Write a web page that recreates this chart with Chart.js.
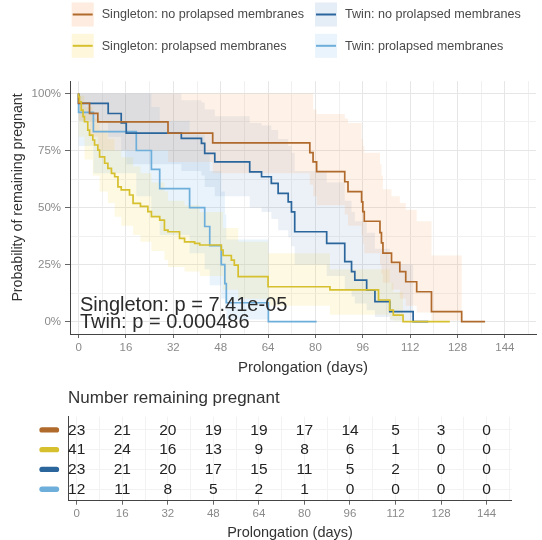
<!DOCTYPE html>
<html><head><meta charset="utf-8">
<script src="https://cdn.jsdelivr.net/npm/chart.js@4.4.1/dist/chart.umd.min.js"></script>
<style>
html,body{margin:0;padding:0;background:#fff;}
#wrap{position:relative;width:542px;height:540px;overflow:hidden;background:#fff;}
#c1{position:absolute;left:0;top:0;}
#c2{position:absolute;left:0;top:380px;}
</style></head><body>
<div id="wrap"><canvas id="c1" width="542" height="380"></canvas><canvas id="c2" width="542" height="160"></canvas></div>
<script>
// ---------------- data ----------------
const seriesNames = ['Singleton: no prolapsed membranes', 'Twin: no prolapsed membranes', 'Singleton: prolapsed membranes', 'Twin: prolapsed membranes'];

// Singleton, no prolapsed membranes
const sNoDays  = [0, 3.7, 6.5, 30.2, 45.3, 78.1, 79.2, 80.4, 89.9, 91.0, 95.6, 96.0, 96.5, 101.8, 102.3, 102.8, 105.7, 108.5, 110.5, 114.2, 119.2, 129.4, 137.3];
const sNoSurv  = [1, .957, .913, .875, .826, .783, .741, .70, .657, .613, .57, .525, .482, .44, .39, .345, .30, .26, .219, .175, .131, .044, 0];
const sNoUpper = [1, 1, 1, 1, 1, 1, 1, .93, .91, .89, .87, .80, .77, .74, .69, .64, .58, .55, .52, .49, .44, .29, 0];
const sNoLower = [1, .88, .81, .75, .70, .65, .60, .55, .51, .47, .42, .38, .34, .30, .25, .21, .17, .14, .10, .07, .04, .005, 0];

// Twin, no prolapsed membranes
const tNoDays  = [0, 10.0, 14.4, 16.1, 34.7, 41.5, 42.6, 46.0, 57.8, 61.8, 65.1, 67.4, 70.8, 71.9, 73.0, 83.8, 89.9, 92.2, 93.3, 97.3, 100.1, 105.1, 113.0, 118.1];
const tNoSurv  = [1, .956, .912, .871, .826, .803, .781, .737, .70, .656, .635, .606, .562, .525, .481, .394, .343, .263, .219, .182, .138, .088, .044, 0];
const tNoUpper = [1, 1, 1, 1, 1, .97, .96, .93, .90, .87, .86, .84, .80, .77, .74, .66, .61, .53, .48, .44, .39, .32, .25, 0];
const tNoLower = [1, .88, .81, .75, .69, .66, .64, .59, .55, .50, .48, .45, .40, .37, .33, .25, .20, .14, .11, .08, .05, .02, .005, 0];

// Singleton, prolapsed membranes
const sPrDays = [0, 0.3, 0.9, 1.5, 2.0, 3.1, 3.7, 4.8, 5.4, 6.5, 7.1, 8.8, 9.9, 11.1, 12.2, 13.3, 14.4, 17.2, 18.4, 20.9, 23.4, 24.6, 27.4, 29.0, 30.2, 34.1, 35.8, 39.2, 40.9, 48.2, 48.8, 51.6, 52.6, 53.9, 64.0, 84.9, 101.3, 105.1, 106.3, 109.6, 125.4];
const sPrSurv = [1, .985, .963, .927, .898, .876, .839, .817, .796, .774, .752, .722, .694, .672, .650, .635, .591, .577, .555, .518, .505, .482, .460, .445, .401, .394, .365, .350, .343, .336, .314, .29, .27, .248, .197, .153, .139, .095, .051, .029, 0];
const sPrBandDays = [0, 2.0, 4.8, 7.1, 9.9, 12.2, 14.4, 18.4, 20.9, 24.6, 29.0, 30.2, 35.8, 40.9, 48.8, 53.9, 64.0, 84.9, 105.1, 106.3, 109.6, 125.4];
const sPrUpper = [1, .99, .94, .89, .84, .80, .75, .72, .68, .65, .61, .57, .53, .51, .48, .41, .35, .30, .23, .17, .13, 0];
const sPrLower = [1, .81, .71, .64, .57, .52, .46, .42, .38, .35, .31, .27, .24, .22, .20, .14, .10, .07, .03, .01, .004, 0];

// Twin, prolapsed membranes
const tPrDays  = [0, 5.0, 19.5, 24.6, 27.4, 37.5, 42.6, 44.3, 48.2, 49.4, 49.9, 64.1, 80.4];
const tPrSurv  = [1, .917, .833, .75, .667, .583, .5, .417, .333, .25, .167, .083, 0];
const tPrUpper = [1, 1, 1, 1, .94, .88, .82, .74, .66, .57, .47, .36, 0];
const tPrLower = [1, .77, .65, .55, .46, .38, .30, .23, .16, .10, .05, .01, 0];

// axis ticks
const gridDays  = [0, 8, 16, 24, 32, 40, 48, 56, 64, 72, 80, 88, 96, 104, 112, 120, 128, 136, 144, 152];
const labelDays = [0, 16, 32, 48, 64, 80, 96, 112, 128, 144];
const gridProbs = [0, 0.125, 0.25, 0.375, 0.5, 0.625, 0.75, 0.875, 1];
const labelProbs = [0, 0.25, 0.5, 0.75, 1];

// risk table
const riskTimes = [0, 16, 32, 48, 64, 80, 96, 112, 128, 144];
const riskSNo = [23, 21, 20, 19, 19, 17, 14, 5, 3, 0];
const riskSPr = [41, 24, 16, 13, 9, 8, 6, 1, 0, 0];
const riskTNo = [23, 21, 20, 17, 15, 11, 5, 2, 0, 0];
const riskTPr = [12, 11, 8, 5, 2, 1, 0, 0, 0, 0];

const pValueLines = ['Singleton: p = 7.41e-05', 'Twin: p = 0.000486'];
const yTitle = 'Probability of remaining pregnant';
const xTitle = 'Prolongation (days)';
const tableTitle = 'Number remaining pregnant';

// ---------------- styling ----------------
const FONT = "'Liberation Sans', Arial, Helvetica, sans-serif";
Chart.defaults.font.family = FONT;

const series = [
  {name: seriesNames[0], line: '#B06A2C', band: 'rgba(245,160,95,0.15)', key: 'rgba(245,170,110,0.22)', days: sNoDays, surv: sNoSurv, bDays: sNoDays, up: sNoUpper, lo: sNoLower, risk: riskSNo, row: 4},
  {name: seriesNames[1], line: '#2A659C', band: 'rgba(80,130,180,0.11)', key: 'rgba(110,160,210,0.18)', days: tNoDays, surv: tNoSurv, bDays: tNoDays, up: tNoUpper, lo: tNoLower, risk: riskTNo, row: 2},
  {name: seriesNames[2], line: '#D6C02E', band: 'rgba(250,215,70,0.15)', key: 'rgba(250,220,90,0.22)', days: sPrDays, surv: sPrSurv, bDays: sPrBandDays, up: sPrUpper, lo: sPrLower, risk: riskSPr, row: 3},
  {name: seriesNames[3], line: '#6DAEDB', band: 'rgba(110,180,235,0.16)', key: 'rgba(150,200,240,0.2)', days: tPrDays, surv: tPrSurv, bDays: tPrDays, up: tPrUpper, lo: tPrLower, risk: riskTPr, row: 1}
];

function pts(xs, ys) { return xs.map((x, i) => ({x: x, y: ys[i]})); }
function isIn(v, arr) { return arr.some(a => Math.abs(a - v) < 1e-9); }

const lineSets = [series[2], series[0], series[1], series[3]].map(s => ({
  data: pts(s.days, s.surv), borderColor: s.line, borderWidth: 1.7, stepped: 'after',
  pointRadius: 0, fill: false, borderJoinStyle: 'miter'
}));
const bandSets = [];
series.forEach(s => {
  bandSets.push({data: pts(s.bDays, s.up), borderWidth: 0, borderColor: 'rgba(0,0,0,0)', backgroundColor: s.band, stepped: 'after', pointRadius: 0, fill: '+1'});
  bandSets.push({data: pts(s.bDays, s.lo), borderWidth: 0, borderColor: 'rgba(0,0,0,0)', stepped: 'after', pointRadius: 0, fill: false});
});

const decor1 = {
  id: 'decor1',
  afterDraw(chart) {
    const ctx = chart.ctx;
    ctx.save();
    // legend
    const slots = [[71.7, 14.5], [315, 14.5], [71.7, 45.8], [315, 45.8]];
    series.forEach((s, i) => {
      const [x, y] = slots[i];
      ctx.fillStyle = s.key;
      ctx.fillRect(x, y - 12, 22, 24);
      ctx.strokeStyle = s.line;
      ctx.lineWidth = 2;
      ctx.beginPath(); ctx.moveTo(x + 1, y); ctx.lineTo(x + 21, y); ctx.stroke();
      ctx.fillStyle = '#4a4a4a';
      ctx.font = '12.6px ' + FONT;
      ctx.textAlign = 'left'; ctx.textBaseline = 'middle';
      ctx.fillText(s.name, x + 30, y + 0.5);
    });
    // p-values
    ctx.fillStyle = '#2b2b2b';
    ctx.font = '20px ' + FONT;
    ctx.textAlign = 'left'; ctx.textBaseline = 'alphabetic';
    ctx.fillText(pValueLines[0], 80, 311);
    ctx.fillText(pValueLines[1], 80, 328);
    // axis titles
    ctx.fillStyle = '#333';
    ctx.font = '15px ' + FONT;
    ctx.textAlign = 'center'; ctx.textBaseline = 'middle';
    const a = chart.chartArea;
    ctx.fillText(xTitle, (a.left + a.right) / 2, 368);
    ctx.save();
    ctx.translate(18, 197.5);
    ctx.rotate(-Math.PI / 2);
    ctx.font = '14.2px ' + FONT;
    ctx.fillText(yTitle, 0, 0);
    ctx.restore();
    ctx.restore();
  }
};

new Chart(document.getElementById('c1'), {
  type: 'line',
  data: {datasets: [...lineSets, ...bandSets]},
  options: {
    responsive: false, animation: false, devicePixelRatio: 1,
    layout: {padding: {top: 81.1, right: 6, left: 0, bottom: 0}},
    plugins: {legend: {display: false}, tooltip: {enabled: false}},
    scales: {
      x: {
        type: 'linear', min: -2.9, max: 154.5,
        afterBuildTicks: sc => { sc.ticks = gridDays.map(v => ({value: v})); },
        afterFit: sc => { sc.height = 46; },
        ticks: {autoSkip: false, maxRotation: 0, padding: 3, color: '#8a8a8a', font: {size: 11.5},
          callback: v => isIn(v, labelDays) ? String(v) : ''},
        grid: {color: c => (c.tick && isIn(c.tick.value, labelDays)) ? '#e6e6e6' : '#f0f0f0', lineWidth: 1,
          tickLength: 4, tickColor: c => (c.tick && isIn(c.tick.value, labelDays)) ? '#666' : 'rgba(0,0,0,0)'},
        border: {display: true, color: '#444', width: 1}
      },
      y: {
        type: 'linear', min: -0.054, max: 1.054,
        afterBuildTicks: sc => { sc.ticks = gridProbs.map(v => ({value: v})); },
        afterFit: sc => { sc.width = 70; },
        ticks: {autoSkip: false, padding: 4, color: '#8a8a8a', font: {size: 11.5},
          callback: v => isIn(v, labelProbs) ? Math.round(v * 100) + '%' : ''},
        grid: {color: c => (c.tick && isIn(c.tick.value, labelProbs)) ? '#e6e6e6' : '#f0f0f0', lineWidth: 1,
          tickLength: 5, tickColor: c => (c.tick && isIn(c.tick.value, labelProbs)) ? '#666' : 'rgba(0,0,0,0)'},
        border: {display: true, color: '#444', width: 1}
      }
    }
  },
  plugins: [decor1]
});

// ---------------- risk table ----------------
const tableSets = series.map(s => ({
  data: riskTimes.map(t => ({x: t, y: s.row})), counts: s.risk, keyColor: s.line,
  pointRadius: 0, showLine: false
}));

const decor2 = {
  id: 'decor2',
  afterDatasetsDraw(chart) {
    const ctx = chart.ctx;
    ctx.save();
    ctx.fillStyle = '#222';
    ctx.font = '15.5px ' + FONT;
    ctx.textAlign = 'center'; ctx.textBaseline = 'middle';
    chart.data.datasets.forEach((ds, di) => {
      const meta = chart.getDatasetMeta(di);
      meta.data.forEach((el, i) => { ctx.fillText(String(ds.counts[i]), el.x, el.y + 0.5); });
      const y = chart.scales.y.getPixelForValue(ds.data[0].y);
      ctx.strokeStyle = ds.keyColor; ctx.lineWidth = 5.3; ctx.lineCap = 'round';
      ctx.beginPath(); ctx.moveTo(42, y); ctx.lineTo(56.5, y); ctx.stroke();
    });
    ctx.fillStyle = '#333';
    ctx.textAlign = 'left'; ctx.textBaseline = 'alphabetic';
    ctx.font = '17px ' + FONT;
    ctx.fillText(tableTitle, 68, 23.3);
    ctx.textAlign = 'center'; ctx.textBaseline = 'middle';
    ctx.font = '14.5px ' + FONT;
    const a = chart.chartArea;
    ctx.fillText(xTitle, (a.left + a.right) / 2, 153.3);
    ctx.restore();
  }
};

new Chart(document.getElementById('c2'), {
  type: 'scatter',
  data: {datasets: tableSets},
  options: {
    responsive: false, animation: false, devicePixelRatio: 1,
    layout: {padding: {top: 36.7, right: 30.3, left: 0, bottom: 0}},
    plugins: {legend: {display: false}, tooltip: {enabled: false}},
    scales: {
      x: {
        type: 'linear', min: -2.95, max: 152.8,
        afterBuildTicks: sc => { sc.ticks = gridDays.map(v => ({value: v})); },
        afterFit: sc => { sc.height = 39.3; },
        ticks: {autoSkip: false, maxRotation: 0, padding: 2.3, color: '#8a8a8a', font: {size: 11.5},
          callback: v => isIn(v, labelDays) ? String(v) : ''},
        grid: {color: '#f2f2f2', lineWidth: 1, tickLength: 4,
          tickColor: c => (c.tick && isIn(c.tick.value, labelDays)) ? '#666' : 'rgba(0,0,0,0)'},
        border: {display: true, color: '#444', width: 1}
      },
      y: {
        type: 'linear', min: 0.42, max: 4.67,
        afterBuildTicks: sc => { sc.ticks = [1, 2, 3, 4].map(v => ({value: v})); },
        afterFit: sc => { sc.width = 68.3; },
        ticks: {display: false},
        grid: {color: '#f2f2f2', lineWidth: 1, drawTicks: false},
        border: {display: true, color: '#444', width: 1}
      }
    }
  },
  plugins: [decor2]
});
</script>
</body></html>
